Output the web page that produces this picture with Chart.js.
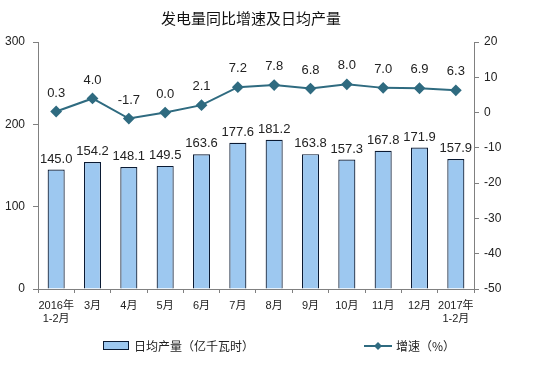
<!DOCTYPE html>
<html><head><meta charset="utf-8">
<script src="https://cdn.jsdelivr.net/npm/chart.js@4"></script>
<style>html,body{margin:0;padding:0;background:#fff}#wrap{width:554px;height:382px}</style>
</head><body><div id="wrap"><canvas id="c" width="554" height="382"></canvas></div>
<script>
const categories = [["2016年","1-2月"],"3月","4月","5月","6月","7月","8月","9月","10月","11月","12月",["2017年","1-2月"]];
const dailyOutput = [145.0,154.2,148.1,149.5,163.6,177.6,181.2,163.8,157.3,167.8,171.9,157.9];
const growthRate = [0.3,4.0,-1.7,0.0,2.1,7.2,7.8,6.8,8.0,7.0,6.9,6.3];
const leftTicks = [0,100,200,300];
const rightTicks = [-50,-40,-30,-20,-10,0,10,20];
const titleText = "发电量同比增速及日均产量";
const barLabel = "日均产量（亿千瓦时）";
const lineLabel = "增速（%）";

const FONT = "'Liberation Sans', Arial, 'Noto Sans CJK SC', sans-serif";
const CJK = "'Noto Sans CJK SC', sans-serif";
const BAR_FILL = "#9DC8F0", BAR_BORDER = "#0A1A33", LINE_COLOR = "#2F6B80", AXIS = "#808080", TEXT = "#222";

const labelsPlugin = {
  id: 'labels',
  afterDatasetsDraw(chart) {
    const ctx = chart.ctx;
    ctx.save();
    ctx.fillStyle = TEXT;
    ctx.font = "13px " + FONT;
    ctx.textAlign = 'center';
    ctx.textBaseline = 'bottom';
    chart.getDatasetMeta(0).data.forEach((el, i) => {
      ctx.fillText(dailyOutput[i].toFixed(1), el.x, el.y - 4);
    });
    chart.getDatasetMeta(1).data.forEach((el, i) => {
      ctx.fillText(growthRate[i].toFixed(1), el.x, el.y - 12);
    });
    // title
    ctx.font = "15px " + CJK;
    ctx.textBaseline = 'middle';
    ctx.fillStyle = '#111';
    ctx.fillText(titleText, 251, 18);
    // legend
    ctx.font = "12px " + CJK;
    ctx.textAlign = 'left';
    ctx.fillStyle = BAR_FILL;
    ctx.fillRect(103, 341, 25, 8);
    ctx.strokeStyle = BAR_BORDER;
    ctx.lineWidth = 1;
    ctx.strokeRect(103.5, 341.5, 25, 8);
    ctx.fillStyle = TEXT;
    ctx.fillText(barLabel, 134, 346);
    ctx.strokeStyle = LINE_COLOR;
    ctx.lineWidth = 2;
    ctx.beginPath(); ctx.moveTo(364, 346); ctx.lineTo(392, 346); ctx.stroke();
    ctx.fillStyle = LINE_COLOR;
    ctx.beginPath(); ctx.moveTo(378, 342); ctx.lineTo(382, 346); ctx.lineTo(378, 350); ctx.lineTo(374, 346); ctx.closePath(); ctx.fill();
    ctx.fillStyle = TEXT;
    ctx.fillText(lineLabel, 396, 346);
    ctx.restore();
  }
};

new Chart(document.getElementById('c'), {
  data: {
    labels: categories,
    datasets: [
      { type: 'bar', label: barLabel, data: dailyOutput, yAxisID: 'y', backgroundColor: BAR_FILL, borderColor: BAR_BORDER, borderWidth: 1.2, barPercentage: 0.47, categoryPercentage: 1, order: 2 },
      { type: 'line', label: lineLabel, data: growthRate, yAxisID: 'y2', borderColor: LINE_COLOR, backgroundColor: LINE_COLOR, borderWidth: 2, pointStyle: 'rectRot', pointRadius: 4.5, pointHoverRadius: 4.5, tension: 0, order: 1 }
    ]
  },
  options: {
    responsive: false, animation: false,
    layout: { padding: { top: 42, bottom: 48, left: 0, right: 0 } },
    plugins: { legend: { display: false }, tooltip: { enabled: false }, title: { display: false } },
    scales: {
      x: {
        offset: true,
        grid: { offset: true, drawOnChartArea: false, drawTicks: true, tickLength: 4, color: AXIS },
        border: { color: AXIS },
        ticks: { color: TEXT, font: { size: 11, family: FONT }, maxRotation: 0, autoSkip: false, padding: 6 },
        afterFit(s) { s.height = 45; }
      },
      y: {
        position: 'left', min: 0, max: 300,
        afterBuildTicks(s) { s.ticks = leftTicks.map(v => ({ value: v })); },
        grid: { drawOnChartArea: false, drawTicks: true, tickLength: 5, color: AXIS },
        border: { color: AXIS },
        ticks: { color: TEXT, font: { size: 12, family: FONT }, padding: 8 },
        afterFit(s) { s.width = 38; }
      },
      y2: {
        position: 'right', min: -50, max: 20,
        afterBuildTicks(s) { s.ticks = rightTicks.map(v => ({ value: v })); },
        grid: { drawOnChartArea: false, drawTicks: true, tickLength: 5, color: AXIS },
        border: { color: AXIS },
        ticks: { color: TEXT, font: { size: 12, family: FONT }, padding: 5 },
        afterFit(s) { s.width = 80; }
      }
    }
  },
  plugins: [labelsPlugin]
});
</script></body></html>
